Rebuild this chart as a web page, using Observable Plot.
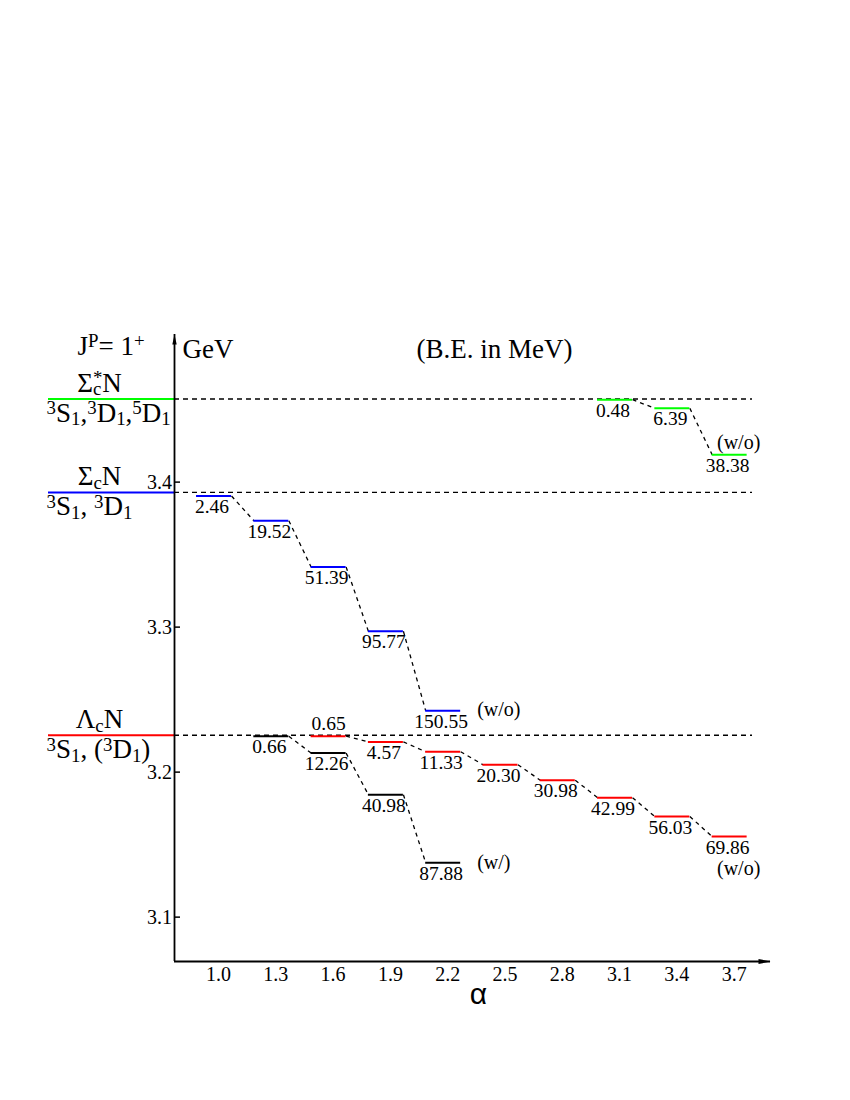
<!DOCTYPE html>
<html><head><meta charset="utf-8">
<script src="https://cdn.jsdelivr.net/npm/d3@7"></script>
<script src="https://cdn.jsdelivr.net/npm/@observablehq/plot@0.6"></script>
<style>html,body{margin:0;padding:0;background:#fff;} svg{display:block;font-family:"Liberation Serif","Times New Roman",serif !important;}</style>
</head><body><div id="chart"></div>
<script>
// ---------------- data ----------------
const alphaTicks = [1.0, 1.3, 1.6, 1.9, 2.2, 2.5, 2.8, 3.1, 3.4, 3.7];
const massTicks = [3.1, 3.2, 3.3, 3.4];
const thresholdNames = ["Σ_c^*N", "Σ_cN", "Λ_cN"];
const thresholdWaves = ["^3S_1,^3D_1,^5D_1", "^3S_1, ^3D_1", "^3S_1, (^3D_1)"];
const thresholdMass = [3.4573, 3.3929, 3.2254]; // GeV
const sigmaStarAlpha = [3.1, 3.4, 3.7];
const sigmaStarBE = [0.48, 6.39, 38.38];        // MeV, Σc*N (w/o)
const sigmaAlpha = [1.0, 1.3, 1.6, 1.9, 2.2];
const sigmaBE = [2.46, 19.52, 51.39, 95.77, 150.55]; // MeV, ΣcN (w/o)
const lambdaWoAlpha = [1.6, 1.9, 2.2, 2.5, 2.8, 3.1, 3.4, 3.7];
const lambdaWoBE = [0.65, 4.57, 11.33, 20.30, 30.98, 42.99, 56.03, 69.86]; // ΛcN (w/o)
const lambdaWAlpha = [1.3, 1.6, 1.9, 2.2];
const lambdaWBE = [0.66, 12.26, 40.98, 87.88];  // ΛcN (w/)
const noteWo = "(w/o)", noteW = "(w/)";

// ---------------- styles / layout ----------------
const thresholdColor = ["#00ff00", "#0000ff", "#ff0000"];
const seriesColor = {sigmaStar: "#00ff00", sigma: "#0000ff", lambdaWo: "#ff0000", lambdaW: "#000000"};
const W = 850, H = 1100, mL = 174, mR = 80, mT = 334, mB = 139;
const xDomain = [0.793, 3.914];
const yDomain = [3.0694, 3.5018];
const pxPerAlpha = (W - mL - mR) / (xDomain[1] - xDomain[0]);
const segHalf = 17.5 / pxPerAlpha;

const series = [
  {key: "sigmaStar", t: 0, alpha: sigmaStarAlpha, be: sigmaStarBE},
  {key: "sigma", t: 1, alpha: sigmaAlpha, be: sigmaBE},
  {key: "lambdaWo", t: 2, alpha: lambdaWoAlpha, be: lambdaWoBE},
  {key: "lambdaW", t: 2, alpha: lambdaWAlpha, be: lambdaWBE}
];
const levels = series.flatMap(s => s.alpha.map((a, i) => ({
  series: s.key, alpha: a, be: s.be[i], mass: thresholdMass[s.t] - s.be[i] / 1000, first: i === 0
})));
const links = series.flatMap(s => s.alpha.slice(1).map((a, i) => ({
  a1: s.alpha[i], m1: thresholdMass[s.t] - s.be[i] / 1000,
  a2: a, m2: thresholdMass[s.t] - s.be[i + 1] / 1000
})));
const lastOf = k => levels.filter(d => d.series === k).slice(-1);
const thresholds = thresholdMass.map((m, i) => ({m, name: thresholdNames[i], waves: thresholdWaves[i], color: thresholdColor[i]}));
const fmt = d3.format(".2f");
const isAbove = d => d.series === "lambdaWo" && d.first;

const arrowHead = (hw) => ({draw(ctx, size) {
  const L = Math.sqrt(size / Math.PI);
  ctx.moveTo(0, 0); ctx.lineTo(-hw, L); ctx.lineTo(hw, L); ctx.closePath();
}});

const serif = "Liberation Serif";
const svg = Plot.plot({
  width: W, height: H,
  marginLeft: mL, marginRight: mR, marginTop: mT, marginBottom: mB,
  x: {domain: xDomain},
  y: {domain: yDomain},
  color: {type: "identity"},
  style: {fontSize: "20px", background: "white", color: "black"},
  marks: [
    // threshold lines
    Plot.ruleY(thresholds, {y: "m", stroke: "color", strokeWidth: 2, insetLeft: -126, insetRight: W - mL - mR}),
    Plot.ruleY(thresholds, {y: "m", stroke: "black", strokeWidth: 1.4, strokeDasharray: "5,4", insetRight: 18}),
    Plot.text(thresholds, {y: "m", text: "name", frameAnchor: "left", textAnchor: "middle", dx: -75, dy: -7, lineAnchor: "bottom", fontSize: 27, fontFamily: serif}),
    Plot.text(thresholds, {y: "m", text: "waves", frameAnchor: "left", textAnchor: "start", dx: -128, dy: 23, lineAnchor: "bottom", fontSize: 27, fontFamily: serif}),
    // axes
    Plot.ruleX([xDomain[0]], {strokeWidth: 1.8}),
    Plot.ruleY([yDomain[0]], {strokeWidth: 1.8}),
    Plot.dot([[xDomain[0], yDomain[1]]], {symbol: arrowHead(2.2), r: 10, fill: "black", stroke: "none"}),
    Plot.dot([[xDomain[1], yDomain[0]]], {symbol: arrowHead(2.6), r: 12, fill: "black", stroke: "none", rotate: 90}),
    Plot.axisY(massTicks, {tickSize: -6, tickPadding: 8.5, tickFormat: d3.format(".1f"), fontSize: 20, fontFamily: serif, label: null, strokeWidth: 1.5}),
    Plot.axisX(alphaTicks, {tickSize: 0, tickPadding: 5, tickFormat: d3.format(".1f"), fontSize: 20, fontFamily: serif, label: null, dx: 4.5}),
    // connectors
    Plot.link(links, {x1: d => d.a1 + segHalf, y1: "m1", x2: d => d.a2 - segHalf, y2: "m2", stroke: "black", strokeWidth: 1.3, strokeDasharray: "4,4"}),
    // levels
    Plot.ruleY(levels, {y: "mass", x1: "alpha", x2: "alpha", insetLeft: -17.5, insetRight: -17.5, stroke: d => seriesColor[d.series], strokeWidth: 2}),
    Plot.text(levels.filter(d => !isAbove(d)), {x: "alpha", y: "mass", text: d => fmt(d.be), dx: -2, dy: 17, lineAnchor: "bottom", fontSize: 19.5, fontFamily: serif}),
    Plot.text(levels.filter(isAbove), {x: "alpha", y: "mass", text: d => fmt(d.be), dx: 0, dy: -6.5, lineAnchor: "bottom", fontSize: 19.5, fontFamily: serif}),
    // notes
    Plot.text(lastOf("sigmaStar"), {x: "alpha", y: "mass", text: () => noteWo, textAnchor: "middle", dx: 9, dy: -6, lineAnchor: "bottom", fontSize: 20, fontFamily: serif}),
    Plot.text(lastOf("sigma"), {x: "alpha", y: "mass", text: () => noteWo, textAnchor: "start", dx: 34, dy: 5, lineAnchor: "bottom", fontSize: 20, fontFamily: serif}),
    Plot.text(lastOf("lambdaWo"), {x: "alpha", y: "mass", text: () => noteWo, textAnchor: "middle", dx: 9, dy: 38, lineAnchor: "bottom", fontSize: 20, fontFamily: serif}),
    Plot.text(lastOf("lambdaW"), {x: "alpha", y: "mass", text: () => noteW, textAnchor: "start", dx: 34, dy: 6, lineAnchor: "bottom", fontSize: 20, fontFamily: serif}),
    // titles
    Plot.text(["J^P= 1^+"], {frameAnchor: "top-left", textAnchor: "start", dx: -97, dy: 20, lineAnchor: "bottom", fontSize: 27, fontFamily: serif}),
    Plot.text(["GeV"], {frameAnchor: "top-left", textAnchor: "start", dx: 8, dy: 23, lineAnchor: "bottom", fontSize: 27, fontFamily: serif}),
    Plot.text(["(B.E. in MeV)"], {frameAnchor: "top-left", textAnchor: "middle", dx: 320, dy: 23, lineAnchor: "bottom", fontSize: 27, fontFamily: serif}),
    Plot.text(["α"], {frameAnchor: "bottom-left", textAnchor: "middle", dx: 304, dy: 42, lineAnchor: "bottom", fontSize: 30, fontFamily: "Liberation Sans"})
  ]
});
document.getElementById("chart").appendChild(svg);

// rich text: _x subscript, ^x superscript, {..} groups
function richify(el) {
  const s = el.textContent;
  if (!/[_^]/.test(s)) return;
  const fs = parseFloat(getComputedStyle(el).fontSize);
  const pieces = [];
  let i = 0;
  while (i < s.length) {
    const c = s[i];
    if (c === "_" || c === "^") {
      let t;
      if (s[i + 1] === "{") { const j = s.indexOf("}", i); t = s.slice(i + 2, j); i = j + 1; }
      else { t = s[i + 1]; i += 2; }
      pieces.push({kind: c === "_" ? "sub" : "sup", t});
    } else {
      let j = i; while (j < s.length && s[j] !== "_" && s[j] !== "^") j++;
      pieces.push({kind: "n", t: s.slice(i, j)}); i = j;
    }
  }
  el.textContent = "";
  let cur = 0, last = null;
  for (const p of pieces) {
    const ts = document.createElementNS("http://www.w3.org/2000/svg", "tspan");
    const target = p.kind === "sub" ? 0.12 * fs : p.kind === "sup" ? -0.28 * fs : 0;
    ts.setAttribute("dy", target - cur); cur = target;
    if (p.kind !== "n") ts.setAttribute("font-size", 0.7 * fs);
    if (p.kind === "sup" && last && last.kind === "sub") ts.setAttribute("dx", -last.len);
    ts.textContent = p.t;
    el.appendChild(ts);
    last = {kind: p.kind, len: ts.getComputedTextLength()};
  }
}
d3.select(svg).selectAll("text").each(function () { richify(this); });
</script>
</body></html>
